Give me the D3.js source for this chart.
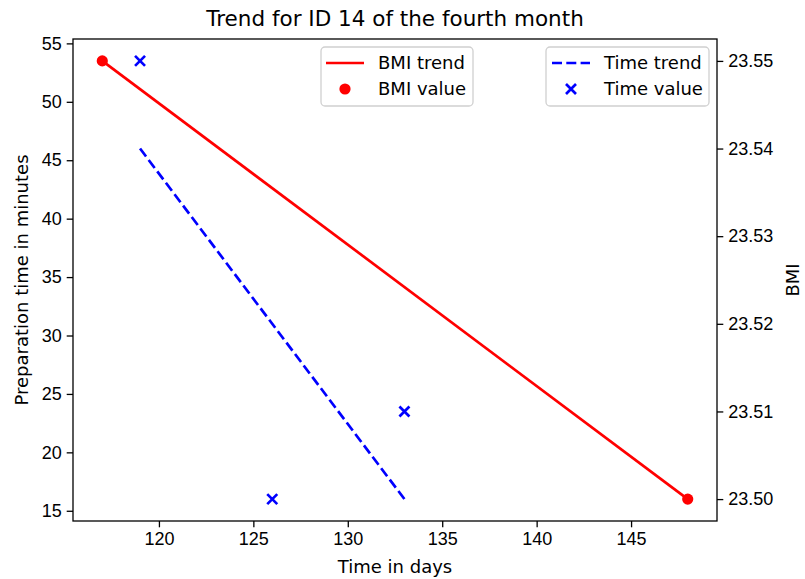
<!DOCTYPE html>
<html>
<head>
<meta charset="utf-8">
<script src="https://cdn.jsdelivr.net/npm/d3@7"></script>
<style>
  body { margin: 0; background: #fff; }
  svg { display: block; font-family: "DejaVu Sans", sans-serif; }
</style>
</head>
<body>
<div id="chart"></div>
<script>
// values
var bmiDays = [117, 148];
var bmiValues = [23.55, 23.50];
var timeDays = [119, 126, 133];
var timeValues = [53.5, 16, 23.5];
var timeTrendDays = [119, 133];
var timeTrendValues = [46, 16];
var xTicks = [120, 125, 130, 135, 140, 145];
var yLeftTicks = [15, 20, 25, 30, 35, 40, 45, 50, 55];
var yRightTicks = [23.50, 23.51, 23.52, 23.53, 23.54, 23.55];

var W = 805, H = 579;
var margin = { top: 39, right: 88, bottom: 58, left: 73 },
  width = W - margin.left - margin.right,
  height = H - margin.top - margin.bottom;

// matplotlib style 5% padding
function pad(ext) {
  var r = ext[1] - ext[0];
  return [ext[0] - r * 0.05, ext[1] + r * 0.05];
}

var x = d3.scaleLinear()
  .domain(pad(d3.extent(bmiDays.concat(timeDays))))
  .range([0, width]);
var yL = d3.scaleLinear()
  .domain(pad(d3.extent(timeValues.concat(timeTrendValues))))
  .range([height, 0]);
var yR = d3.scaleLinear()
  .domain(pad(d3.extent(bmiValues)))
  .range([height, 0]);

var svg = d3.select("#chart").append("svg")
  .attr("width", W)
  .attr("height", H);

var g = svg.append("g")
  .attr("transform", "translate(" + margin.left + "," + margin.top + ")");

var fs = 18;

// title
svg.append("text")
  .attr("x", margin.left + width / 2)
  .attr("y", 26)
  .attr("text-anchor", "middle")
  .style("font-size", "21.5px")
  .text("Trend for ID 14 of the fourth month");

// axes
function styleAxis(sel) {
  sel.select(".domain").remove();
  sel.selectAll(".tick line").attr("stroke", "#000").attr("stroke-width", 1.3);
  sel.selectAll(".tick text").style("font-size", fs + "px").attr("fill", "#000");
}

g.append("g")
  .attr("transform", "translate(0," + height + ")")
  .call(d3.axisBottom(x).tickValues(xTicks).tickSize(6.3).tickPadding(5))
  .call(styleAxis);

g.append("g")
  .call(d3.axisLeft(yL).tickValues(yLeftTicks).tickSize(6.3).tickPadding(5))
  .call(styleAxis);

g.append("g")
  .attr("transform", "translate(" + width + ",0)")
  .call(d3.axisRight(yR).tickValues(yRightTicks).tickFormat(d3.format(".2f")).tickSize(6.3).tickPadding(5))
  .call(styleAxis);

// frame
g.append("rect")
  .attr("width", width)
  .attr("height", height)
  .attr("fill", "none")
  .attr("stroke", "#000")
  .attr("stroke-width", 1.3);

// axis labels
svg.append("text")
  .attr("x", margin.left + width / 2)
  .attr("y", 573)
  .attr("text-anchor", "middle")
  .style("font-size", fs + "px")
  .text("Time in days");

svg.append("text")
  .attr("transform", "translate(28," + (margin.top + height / 2) + ") rotate(-90)")
  .attr("text-anchor", "middle")
  .style("font-size", fs + "px")
  .text("Preparation time in minutes");

// right label hugs the picture edge
svg.append("text")
  .attr("transform", "translate(799," + (margin.top + height / 2) + ") rotate(-90)")
  .attr("text-anchor", "middle")
  .style("font-size", fs + "px")
  .text("BMI");

// BMI trend (right axis)
var bmiLine = d3.line()
  .x(function(d, i) { return x(bmiDays[i]); })
  .y(function(d) { return yR(d); });

g.append("path")
  .datum(bmiValues)
  .attr("fill", "none")
  .attr("stroke", "red")
  .attr("stroke-width", 2.7)
  .attr("d", bmiLine);

g.selectAll(".bmi-dot")
  .data(bmiValues)
  .enter().append("circle")
  .attr("class", "bmi-dot")
  .attr("cx", function(d, i) { return x(bmiDays[i]); })
  .attr("cy", function(d) { return yR(d); })
  .attr("r", 5.6)
  .attr("fill", "red");

// time trend (left axis)
var timeLine = d3.line()
  .x(function(d, i) { return x(timeTrendDays[i]); })
  .y(function(d) { return yL(d); });

g.append("path")
  .datum(timeTrendValues)
  .attr("fill", "none")
  .attr("stroke", "blue")
  .attr("stroke-width", 2.7)
  .attr("stroke-dasharray", "10,4.3")
  .attr("d", timeLine);

function cross(sel, s) {
  sel.append("path")
    .attr("d", "M" + (-s) + "," + (-s) + "L" + s + "," + s + "M" + (-s) + "," + s + "L" + s + "," + (-s))
    .attr("stroke", "blue")
    .attr("stroke-width", 2.7)
    .attr("fill", "none");
}

g.selectAll(".time-x")
  .data(timeValues)
  .enter().append("g")
  .attr("class", "time-x")
  .attr("transform", function(d, i) { return "translate(" + x(timeDays[i]) + "," + yL(d) + ")"; })
  .call(cross, 5);

// legends
function legendBox(x0, y0, w, h) {
  svg.append("rect")
    .attr("x", x0).attr("y", y0)
    .attr("width", w).attr("height", h)
    .attr("rx", 4)
    .attr("fill", "#fff").attr("fill-opacity", 0.8)
    .attr("stroke", "#d0d0d0").attr("stroke-width", 1.3);
}
function legendText(tx, ty, t) {
  svg.append("text")
    .attr("x", tx).attr("y", ty)
    .attr("dy", "0.35em")
    .style("font-size", fs + "px")
    .text(t);
}

// BMI legend
legendBox(321, 47, 152, 59);
svg.append("line")
  .attr("x1", 326).attr("x2", 364).attr("y1", 63).attr("y2", 63)
  .attr("stroke", "red").attr("stroke-width", 2.7);
svg.append("circle").attr("cx", 345).attr("cy", 89).attr("r", 5.6).attr("fill", "red");
legendText(378, 63, "BMI trend");
legendText(378, 89, "BMI value");

// Time legend
legendBox(546, 47, 163, 59);
svg.append("line")
  .attr("x1", 552).attr("x2", 590).attr("y1", 63).attr("y2", 63)
  .attr("stroke", "blue").attr("stroke-width", 2.7)
  .attr("stroke-dasharray", "10,4.3");
svg.append("g").attr("transform", "translate(571,89)").call(cross, 5);
legendText(604, 63, "Time trend");
legendText(604, 89, "Time value");
</script>
</body>
</html>
